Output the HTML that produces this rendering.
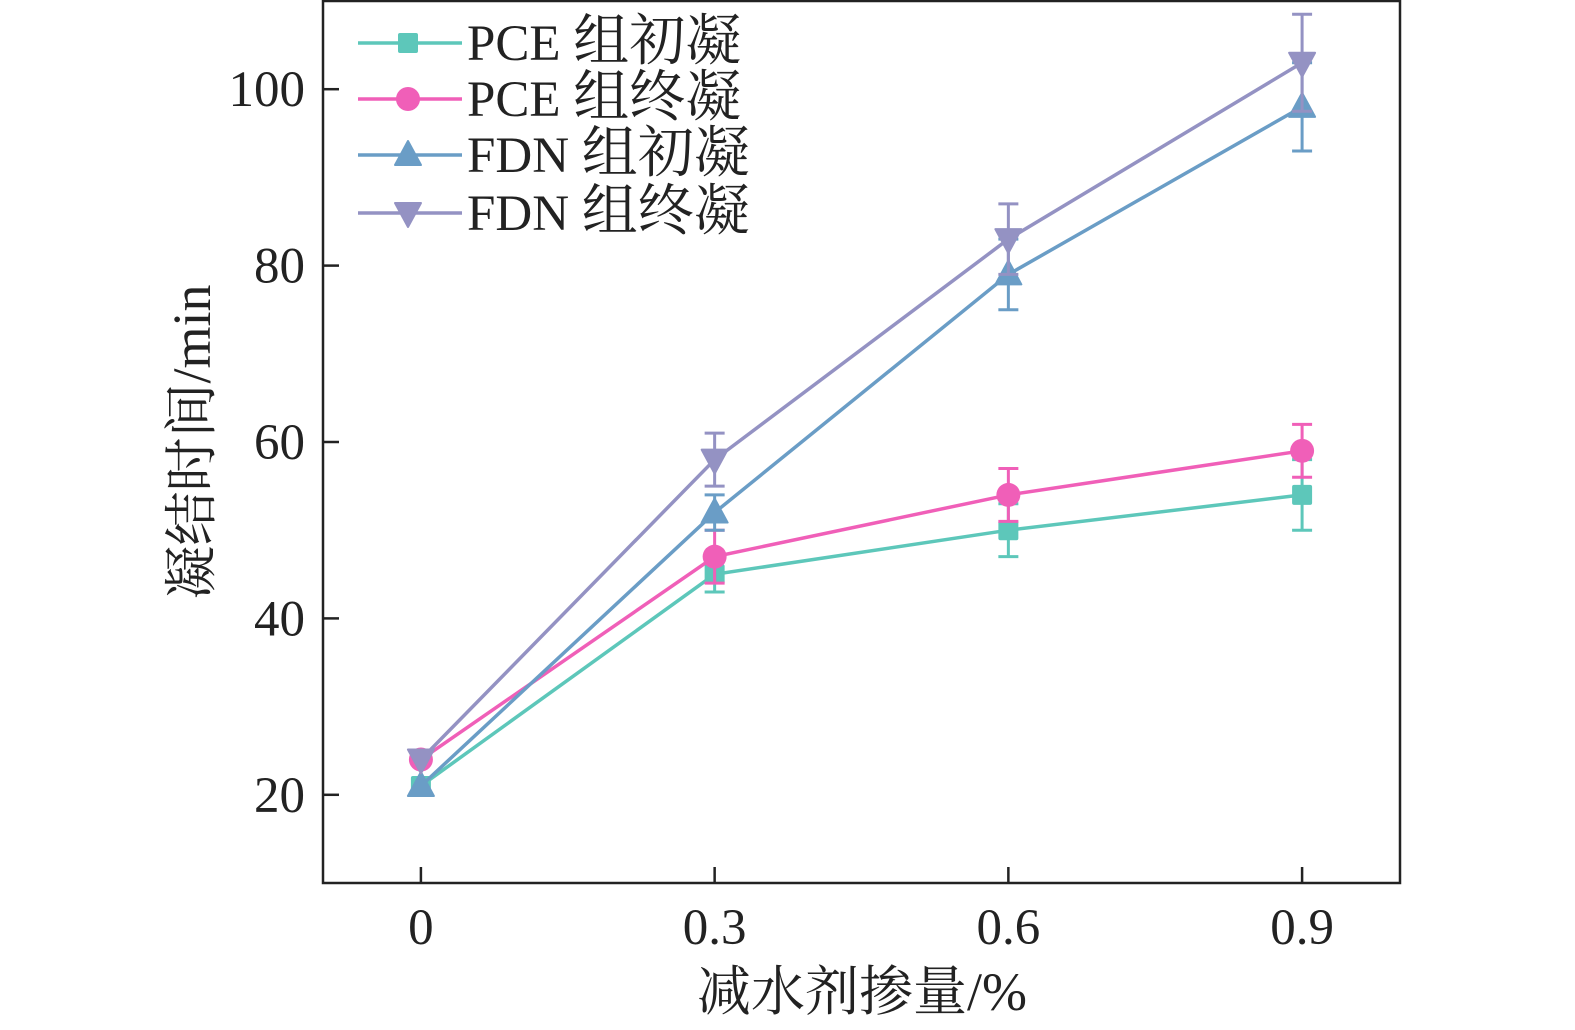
<!DOCTYPE html>
<html><head><meta charset="utf-8"><style>
html,body{margin:0;padding:0;background:#fff;overflow:hidden;width:1575px;height:1030px;}
svg{display:block;font-family:"Liberation Serif","Noto Serif CJK SC",serif;}
</style></head><body>
<svg id="chart" width="1575" height="1030" viewBox="0 0 1575 1030" xmlns="http://www.w3.org/2000/svg"></svg>
<script>
const categories=[0,0.3,0.6,0.9];
const xTickLabels=["0","0.3","0.6","0.9"];
const yTicks=[20,40,60,80,100];
const pceInitial=[21,45,50,54];
const pceInitialErr=[0,2,3,4];
const pceFinal=[24,47,54,59];
const pceFinalErr=[0,3,3,3];
const fdnInitial=[21,52,79,98];
const fdnInitialErr=[0,2,4,5];
const fdnFinal=[24,58,83,103];
const fdnFinalErr=[0,3,4,5.5];
const seriesLatin=["PCE","PCE","FDN","FDN"];
const seriesCjk=["组初凝","组终凝","组初凝","组终凝"];

const L=323,R=1400,T=1,B=883;
const xMin=-0.1,xMax=1.0,yMin=10,yMax=110;
const xs=v=>L+(v-xMin)/(xMax-xMin)*(R-L);
const ys=v=>B-(v-yMin)/(yMax-yMin)*(B-T);
const NS="http://www.w3.org/2000/svg";
const svg=document.getElementById('chart');
function mk(tag,attrs,parent){const e=document.createElementNS(NS,tag);for(const k in attrs)e.setAttribute(k,attrs[k]);(parent||svg).appendChild(e);return e;}

const frame=mk('rect',{x:L,y:T,width:R-L,height:B-T,fill:'none',stroke:'#222','stroke-width':2.5});


yTicks.forEach(v=>{
  const t=mk('line',{x1:L,x2:L+16,y1:ys(v),y2:ys(v),stroke:'#222','stroke-width':2.5});
  
  
  const tx=mk('text',{x:L-18,y:ys(v)+17,'text-anchor':'end','font-size':51,fill:'#222'});
  tx.textContent=v;
  
  
});
categories.forEach((c,i)=>{
  const t=mk('line',{x1:xs(c),x2:xs(c),y1:B,y2:B-16,stroke:'#222','stroke-width':2.5});
  
  
  const tx=mk('text',{x:xs(c),y:B+61,'text-anchor':'middle','font-size':51,fill:'#222'});
  tx.textContent=xTickLabels[i];
  
  
});
const xt=mk('text',{x:862,y:1010,'text-anchor':'middle','font-size':54,fill:'#222'});
xt.textContent='减水剂掺量/%';


const yt=mk('text',{x:0,y:0,'text-anchor':'middle','font-size':54,fill:'#222',transform:'translate(210,442) rotate(-90)'});
yt.textContent='凝结时间/min';



function marker(shape,x,y,color,g){
  let m;
  if(shape==='square') m=mk('rect',{x:x-10,y:y-10,width:20,height:20,rx:2,fill:color},g);
  else if(shape==='circle') m=mk('circle',{cx:x,cy:y,r:12,fill:color},g);
  else if(shape==='up') m=mk('path',{d:`M${x},${y-14}L${x+13},${y+10}L${x-13},${y+10}Z`,fill:color,'stroke-linejoin':'round',stroke:color,'stroke-width':2},g);
  else m=mk('path',{d:`M${x},${y+14}L${x+13},${y-10}L${x-13},${y-10}Z`,fill:color,'stroke-linejoin':'round',stroke:color,'stroke-width':2},g);
  return m;
}
const series=[
 {vals:pceInitial,err:pceInitialErr,color:'#5dc7ba',shape:'square',name:'pce-initial'},
 {vals:pceFinal,err:pceFinalErr,color:'#f05fb8',shape:'circle',name:'pce-final'},
 {vals:fdnInitial,err:fdnInitialErr,color:'#6a9dc6',shape:'up',name:'fdn-initial'},
 {vals:fdnFinal,err:fdnFinalErr,color:'#9492c3',shape:'down',name:'fdn-final'}
];
series.forEach((s,si)=>{
  const g=mk('g',{});
  
  
  const pts=s.vals.map((v,i)=>xs(categories[i])+','+ys(v)).join(' ');
  const pl=mk('polyline',{points:pts,fill:'none',stroke:s.color,'stroke-width':3.5},g);
  
  
  s.vals.forEach((v,i)=>{
    const x=xs(categories[i]);
    if(s.err[i]>0){
      const e=mk('path',{d:`M${x},${ys(v-s.err[i])}V${ys(v+s.err[i])}M${x-10},${ys(v-s.err[i])}H${x+10}M${x-10},${ys(v+s.err[i])}H${x+10}`,stroke:s.color,'stroke-width':3,fill:'none'},g);
      
      
    }
    const m=marker(s.shape,x,ys(v),s.color,g);
    
    
  });
  const ly=[43,99,155,213][si];
  const lg=mk('g',{});
  
  
  mk('line',{x1:358,x2:462,y1:ly,y2:ly,stroke:s.color,'stroke-width':3.5},lg);
  marker(s.shape,408,ly,s.color,lg);
  const lt=mk('text',{x:467,y:ly+17,'font-size':51,fill:'#222'},lg);
  const t1=mk('tspan',{},lt); t1.textContent=seriesLatin[si]+' ';
  const t2=mk('tspan',{'font-size':56},lt); t2.textContent=seriesCjk[si];
});
</script>
</body></html>
